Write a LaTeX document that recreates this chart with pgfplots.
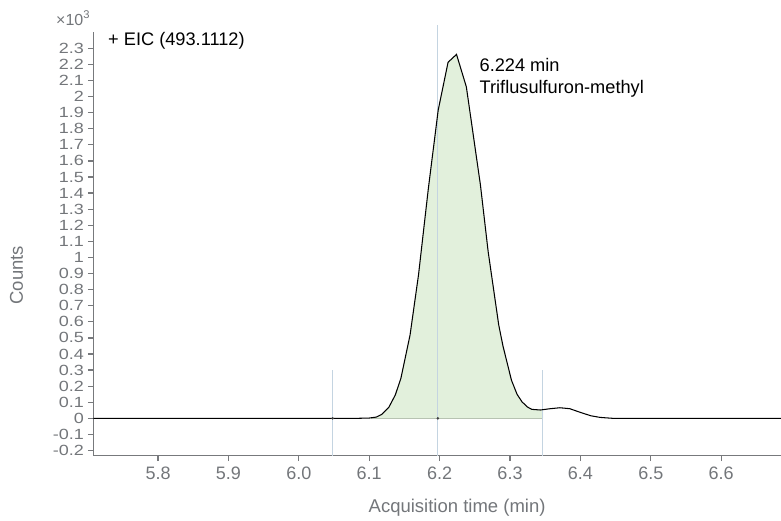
\documentclass[border=0pt]{standalone}
\usepackage{pgfplots}
\pgfplotsset{compat=1.18}
\usepackage{fontspec}
\setmainfont{Liberation Sans}
\definecolor{tickgrey}{HTML}{73767A}
\definecolor{axgrey}{HTML}{77797C}
\definecolor{vline}{HTML}{C4D4E1}
\definecolor{peakfill}{HTML}{E2F0DC}
\definecolor{peakedge}{HTML}{B7C3B2}
\newcommand\Y[1]{\scalebox{1}[0.82]{#1}}
\begin{document}
\begin{tikzpicture}
\useasboundingbox (0pt,0pt) rectangle (781pt,520pt);
\begin{axis}[
  at={(93.3pt,64.3pt)}, anchor=south west,
  width=687.7pt, height=424pt, scale only axis,
  xmin=5.708, xmax=6.685, ymin=-0.232, ymax=2.403,
  clip=false,
  axis x line=bottom, axis y line=left,
  axis line style={-, draw=axgrey, line width=1.4pt},
  tick align=outside, major tick length=5.5pt,
  tick style={draw=axgrey, line width=1.2pt},
  xtick={5.8,5.9,6.0,6.1,6.2,6.3,6.4,6.5,6.6},
  xticklabels={5.8,5.9,6.0,6.1,6.2,6.3,6.4,6.5,6.6},
  ytick={-0.2,-0.1,0,0.1,0.2,0.3,0.4,0.5,0.6,0.7,0.8,0.9,1,1.1,1.2,1.3,1.4,1.5,1.6,1.7,1.8,1.9,2,2.1,2.2,2.3},
  yticklabels={\Y{-0.2},\Y{-0.1},\Y{0},\Y{0.1},\Y{0.2},\Y{0.3},\Y{0.4},\Y{0.5},\Y{0.6},\Y{0.7},\Y{0.8},\Y{0.9},\Y{1},\Y{1.1},\Y{1.2},\Y{1.3},\Y{1.4},\Y{1.5},\Y{1.6},\Y{1.7},\Y{1.8},\Y{1.9},\Y{2},\Y{2.1},\Y{2.2},\Y{2.3}},
  xticklabel style={font=\fontsize{18}{18}\selectfont, text=tickgrey, yshift=-2pt},
  yticklabel style={font=\fontsize{18}{18}\selectfont, text=tickgrey, inner xsep=3.8pt},
  xlabel={Acquisition time (min)},
  xlabel style={at={(rel axis cs:0.529,-0.1233)}, anchor=center, font=\fontsize{18.5}{18.5}\selectfont, text=tickgrey},
  ylabel={Counts},
  ylabel style={at={(rel axis cs:-0.1117,0.426)}, anchor=center, font=\fontsize{18.5}{18.5}\selectfont, text=tickgrey},
]
% integrated peak area
\addplot[draw=none, fill=peakfill] coordinates {
 (6.100,0.002) (6.110,0.008) (6.118,0.025) (6.128,0.07) (6.137,0.145)
 (6.145,0.249) (6.158,0.518) (6.170,0.891) (6.184,1.429) (6.198,1.916)
 (6.212,2.213) (6.224,2.262) (6.238,2.06) (6.258,1.450) (6.269,1.035)
 (6.284,0.580) (6.290,0.45) (6.302,0.238) (6.310,0.15) (6.317,0.103)
 (6.325,0.07) (6.331,0.056) (6.343,0.052) (6.347,0.052)
} \closedcycle;
\addplot[peakedge, line width=1.6pt] coordinates {(6.103,0) (6.347,0)};
% markers
\addplot[vline, line width=1.2pt] coordinates {(6.048,0.30) (6.048,-0.232)};
\addplot[vline, line width=1.2pt] coordinates {(6.1975,2.444) (6.1975,-0.232)};
\addplot[vline, line width=1.2pt] coordinates {(6.3467,0.30) (6.3467,-0.232)};
% chromatogram
\addplot[black, line width=1.05pt] coordinates {
 (5.708,0) (6.080,0) (6.100,0.002) (6.110,0.008) (6.118,0.025) (6.128,0.07)
 (6.137,0.145) (6.145,0.249) (6.158,0.518) (6.170,0.891) (6.184,1.429)
 (6.198,1.916) (6.212,2.213) (6.224,2.262) (6.238,2.06) (6.258,1.450)
 (6.269,1.035) (6.284,0.580) (6.290,0.45) (6.302,0.238) (6.310,0.15)
 (6.317,0.103) (6.325,0.07) (6.331,0.056) (6.343,0.052) (6.357,0.060)
 (6.371,0.066) (6.385,0.060) (6.400,0.037) (6.415,0.016) (6.428,0.006)
 (6.447,0) (6.685,0)
};
\addplot[only marks, mark=*, mark size=1pt, black!75] coordinates {(6.048,0) (6.1975,0)};
% texts
\node[anchor=base west, inner sep=0pt, font=\fontsize{18.2}{18.2}\selectfont] at (axis cs:5.7289,2.317) {+ EIC (493.1112)};
\node[anchor=base west, inner sep=0pt, font=\fontsize{18.2}{18.2}\selectfont] at (axis cs:6.2566,2.154) {6.224 min};
\node[anchor=base west, inner sep=0pt, font=\fontsize{18.2}{18.2}\selectfont] at (axis cs:6.2566,2.016) {Triflusulfuron-methyl};
\node[anchor=base east, text=tickgrey, font=\fontsize{16}{16}\selectfont, inner sep=0pt, xshift=-3pt] at (axis cs:5.708,2.444) {×10\textsuperscript{3}};
\end{axis}
\end{tikzpicture}
\end{document}
